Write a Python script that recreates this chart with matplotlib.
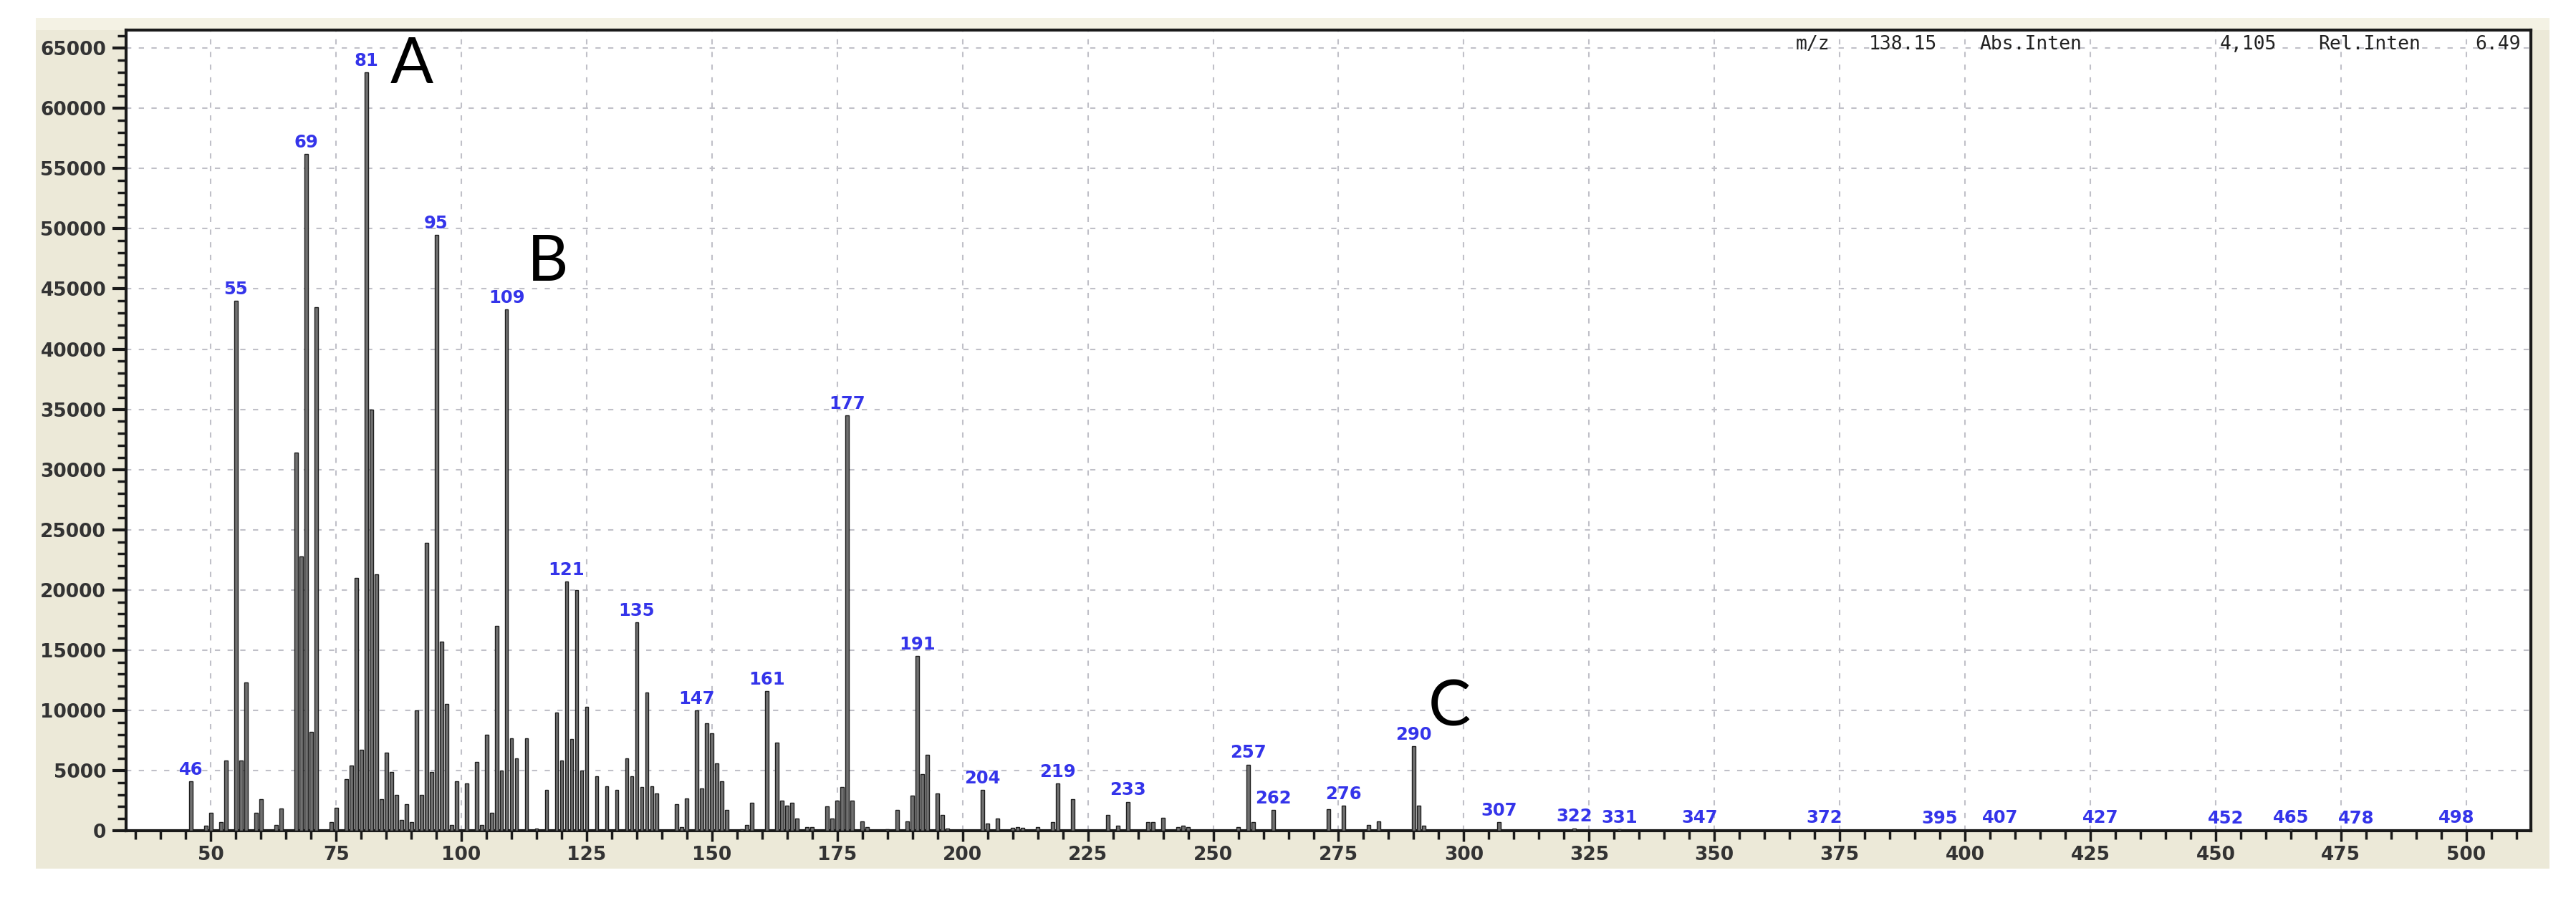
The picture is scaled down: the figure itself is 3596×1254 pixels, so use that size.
import matplotlib
matplotlib.use("Agg")
import matplotlib.pyplot as plt
from matplotlib.patches import Rectangle
from matplotlib.ticker import MultipleLocator

# stick spectrum (m/z, abs. intensity)
mz = [46, 49, 50, 52, 53, 55, 56, 57, 59, 60, 63, 64, 67, 68, 69, 70, 71, 74, 75,
      77, 78, 79, 80, 81, 82, 83, 84, 85, 86, 87, 88, 89, 90, 91, 92, 93, 94, 95,
      96, 97, 98, 99, 101, 103, 104, 105, 106, 107, 108, 109, 110, 111, 113, 115,
      117, 119, 120, 121, 122, 123, 124, 125, 127, 129, 131, 133, 134, 135, 136,
      137, 138, 139, 143, 144, 145, 147, 148, 149, 150, 151, 152, 153, 156, 157,
      158, 161, 163, 164, 165, 166, 167, 169, 170, 173, 174, 175, 176, 177, 178,
      180, 181, 185, 187, 189, 190, 191, 192, 193, 195, 196, 197, 204, 205, 207,
      210, 211, 212, 215, 218, 219, 222, 229, 231, 233, 237, 238, 240, 243, 244,
      245, 255, 257, 258, 262, 273, 276, 281, 283, 290, 291, 292, 307, 322, 331,
      347, 372, 395, 407, 427, 452, 465, 478, 498]
intensity = [4100, 400, 1500, 700, 5800, 44000, 5800, 12300, 1500, 2600, 500, 1850,
             31400, 22800, 56200, 8200, 43500, 700, 1900, 4300, 5400, 21000, 6700,
             63000, 35000, 21300, 2600, 6500, 4850, 3000, 900, 2200, 700, 10000, 3000,
             23900, 4850, 49500, 15700, 10500, 500, 4100, 3950, 5700, 500, 8000, 1500,
             17000, 5000, 43300, 7700, 6000, 7700, 150, 3400, 9800, 5800, 20700, 7600,
             20000, 5000, 10300, 4500, 3700, 3400, 6000, 4500, 17300, 3600, 11500,
             3700, 3100, 2200, 300, 2700, 10000, 3500, 8900, 8100, 5600, 4100, 1700,
             100, 500, 2300, 11600, 7300, 2500, 2100, 2300, 1000, 300, 300, 2000, 1000,
             2500, 3600, 34500, 2500, 800, 300, 100, 1700, 800, 2900, 14500, 4700,
             6300, 3100, 1300, 200, 3400, 600, 1000, 250, 300, 250, 300, 700, 3900,
             2600, 1300, 400, 2400, 700, 700, 1100, 300, 400, 300, 300, 5500, 700,
             1700, 1800, 2100, 500, 750, 7000, 2100, 400, 700, 200, 100,
             80, 80, 60, 80, 80, 60, 120, 60, 80]

labeled_mz = [46, 55, 69, 81, 95, 109, 121, 135, 147, 161, 177, 191, 204, 219, 233,
              257, 262, 276, 290, 307, 322, 331, 347, 372, 395, 407, 427, 452, 465,
              478, 498]

header_tokens = ["m/z", "138.15", "Abs.Inten", "4,105", "Rel.Inten", "6.49"]
panel_letters = ["A", "B", "C"]

W, H = 3596, 1254
fig = plt.figure(figsize=(W / 100, H / 100), dpi=100)
fig.patch.set_facecolor("white")

# beige window panel behind the plot (lighter strip along the top)
fig.patches.append(Rectangle((50 / W, 1 - 1213 / H), (3559 - 50) / W, (1213 - 25) / H,
                             transform=fig.transFigure, facecolor="#ECE9D8",
                             edgecolor="none", zorder=-5))
fig.patches.append(Rectangle((50 / W, 1 - 42 / H), (3559 - 50) / W, 17 / H,
                             transform=fig.transFigure, facecolor="#F4F2E4",
                             edgecolor="none", zorder=-4))

ax = fig.add_axes([176 / W, 1 - 1160 / H, (3533 - 176) / W, (1160 - 42) / H])
ax.set_zorder(1)
ax.set_facecolor("white")
ax.bar(mz, intensity, width=0.7, color="#707070", edgecolor="#1e1e1e",
       linewidth=1.0, zorder=3)

ax.set_xlim(33.1, 512.9)
ax.set_ylim(0, 66500)
ax.xaxis.set_major_locator(MultipleLocator(25))
ax.xaxis.set_minor_locator(MultipleLocator(5))
ax.yaxis.set_major_locator(MultipleLocator(5000))
ax.yaxis.set_minor_locator(MultipleLocator(1000))

ax.set_axisbelow(True)
ax.grid(True, which="major", color="#c0c0c8", linestyle=(0, (3.5, 5)),
        linewidth=1.5)

for s in ax.spines.values():
    s.set_linewidth(3)
    s.set_color("#1a1a1a")

ax.tick_params(axis="y", which="major", length=14, width=3, pad=6,
               labelsize=19, labelcolor="#333333", color="#1a1a1a")
ax.tick_params(axis="y", which="minor", length=8.5, width=2.5, color="#1a1a1a")
ax.tick_params(axis="x", which="major", length=11, width=2.5, pad=4,
               labelsize=19, labelcolor="#333333", color="#1a1a1a")
ax.tick_params(axis="x", which="minor", length=8.5, width=2.5, color="#1a1a1a")
for lab in ax.get_xticklabels() + ax.get_yticklabels():
    lab.set_fontweight("bold")

# blue m/z labels over the main peaks
lookup = dict(zip(mz, intensity))
for m in labeled_mz:
    ax.annotate(str(m), (m, lookup[m]), xytext=(0, 3), textcoords="offset points",
                ha="center", va="bottom", color="#3434ea", fontsize=17.5,
                fontweight="bold", zorder=4)

# big panel letters
letter_pos = [(90.1, 62100), (117.3, 45700), (297.1, 8700)]
for letter, (lx, ly) in zip(panel_letters, letter_pos):
    ax.text(lx, ly, letter, fontsize=64, family="Lato", ha="center",
            va="baseline", color="black", zorder=5)

# cursor readout in the top right corner
header_x = [2530, 2656, 2835, 3138, 3308, 3487]
for tok, hx in zip(header_tokens, header_x):
    fig.text(hx / W, 1 - 62 / H, tok, family="DejaVu Sans Mono", fontsize=19,
             ha="center", va="center", color="#222222", zorder=10)

fig.savefig("out.png", dpi=100)
